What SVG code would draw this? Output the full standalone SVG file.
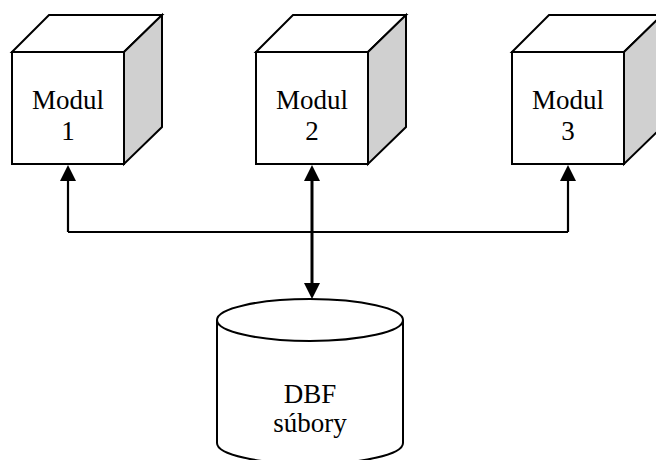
<svg xmlns="http://www.w3.org/2000/svg" width="656" height="460" viewBox="0 0 656 460">
  <style>
    .face { fill: #fff; stroke: #000; stroke-width: 2; stroke-linejoin: miter; }
    .side { fill: #d0d0d0; stroke: #000; stroke-width: 2; stroke-linejoin: miter; }
    .label { font-family: "Liberation Serif", "DejaVu Serif", serif; font-size: 27px; fill: #000; text-anchor: middle; }
    .wire { fill: none; stroke: #000; stroke-width: 2.2; }
    .trunk { fill: none; stroke: #000; stroke-width: 3; }
  </style>
  <defs>
    <marker id="arrow" markerUnits="userSpaceOnUse" markerWidth="16" markerHeight="16" viewBox="0 0 15 15" refX="0" refY="7.5" orient="auto-start-reverse">
      <path d="M0,0 L15,7.5 L0,15 z" fill="#000"/>
    </marker>
    <!-- a cube: front face, top face and shaded right face -->
    <g id="cube">
      <polygon class="face" points="0,37 37,0 150,0 112,37"/>
      <polygon class="side" points="112,37 150,0 150,112 112,149"/>
      <rect class="face" x="0" y="37" width="112" height="112"/>
    </g>
  </defs>

  <g id="modul1">
    <use href="#cube" x="12" y="15"/>
    <text class="label" x="68" y="109">Modul</text>
    <text class="label" x="68" y="140">1</text>
  </g>
  <g id="modul2">
    <use href="#cube" x="256" y="15"/>
    <text class="label" x="312" y="109">Modul</text>
    <text class="label" x="312" y="140">2</text>
  </g>
  <g id="modul3">
    <use href="#cube" x="512" y="15"/>
    <text class="label" x="568" y="109">Modul</text>
    <text class="label" x="568" y="140">3</text>
  </g>

  <g id="dbf">
    <path class="face" d="M217,320 V443 A93,21 0 0 0 403,443 V320"/>
    <ellipse class="face" cx="310" cy="320" rx="93" ry="21"/>
    <text class="label" x="310" y="403">DBF</text>
    <text class="label" x="310" y="432">súbory</text>
  </g>

  <g id="connectors">
    <path class="wire" d="M68,232 H568"/>
    <path class="wire" d="M68,232 V181" marker-end="url(#arrow)"/>
    <path class="wire" d="M568,232 V181" marker-end="url(#arrow)"/>
    <path class="trunk" d="M312,181 V283" marker-start="url(#arrow)" marker-end="url(#arrow)"/>
  </g>
</svg>
